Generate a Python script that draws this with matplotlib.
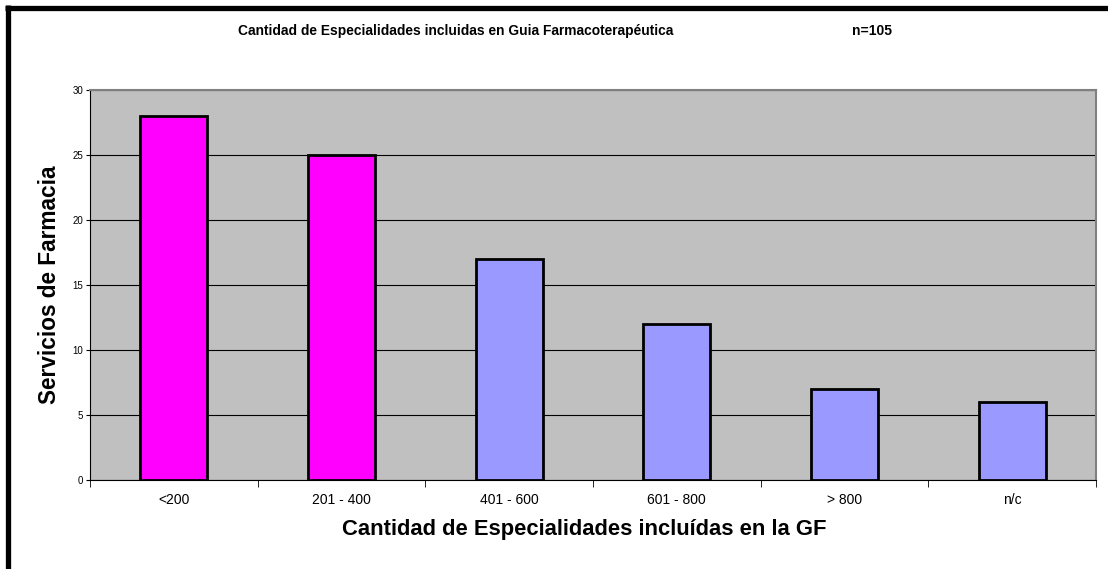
import matplotlib.pyplot as plt
from matplotlib.lines import Line2D
import numpy as np

categories = ['<200', '201 - 400', '401 - 600', '601 - 800', '> 800', 'n/c']
values = [28, 25, 17, 12, 7, 6]
colors = ['#FF00FF', '#FF00FF', '#9999FF', '#9999FF', '#9999FF', '#9999FF']

plt.rcParams['font.family'] = ['Liberation Sans', 'DejaVu Sans']

W, H = 1108, 569
fig = plt.figure(figsize=(W / 100, H / 100), dpi=100)
ax = fig.add_axes([90 / W, 1 - 480 / H, (1096 - 90) / W, (480 - 90) / H])
ax.set_facecolor('#C0C0C0')

x = np.arange(len(categories))
ax.bar(x, values, width=0.4, color=colors, edgecolor='black', linewidth=2, zorder=3)

ax.set_xlim(-0.5, len(categories) - 0.5)
ax.set_ylim(0, 30)
ax.set_yticks(range(0, 31, 5))
ax.tick_params(axis='y', labelsize=7, length=3, direction='out', pad=2)
ax.set_xticks(x)
ax.set_xticklabels(categories)
ax.set_xticks(np.arange(-0.5, len(categories), 1), minor=True)
ax.tick_params(axis='x', which='major', length=0, labelsize=10, pad=9)
ax.tick_params(axis='x', which='minor', length=5, direction='out')
ax.yaxis.grid(True, color='black', linewidth=0.8, zorder=1)
ax.set_axisbelow(True)

for side in ['top', 'right']:
    ax.spines[side].set_color('#808080')
    ax.spines[side].set_linewidth(1.5)
ax.spines['left'].set_color('black')
ax.spines['bottom'].set_color('black')

ax.set_xlabel('Cantidad de Especialidades incluídas en la GF', fontsize=15.8,
              fontweight='bold', va='center')
ax.xaxis.set_label_coords((584 - 90) / 1006, -(530 - 480) / 390)
ax.set_ylabel('Servicios de Farmacia', fontsize=16.3, fontweight='bold', va='center')
ax.yaxis.set_label_coords(-(90 - 50) / 1006, 0.5)

fig.text(456 / W, 1 - 31 / H, 'Cantidad de Especialidades incluidas en Guia Farmacoterapéutica',
         ha='center', va='center', fontsize=9.9, fontweight='bold')
fig.text(872 / W, 1 - 31 / H, 'n=105', ha='center', va='center', fontsize=10, fontweight='bold')

# thick frame (only top and left visible in the crop)
fig.add_artist(Line2D([7.5 / W, 7.5 / W], [0, 1 - 5 / H], color='black', linewidth=3.8,
                      solid_capstyle='butt', transform=fig.transFigure))
fig.add_artist(Line2D([5 / W, 1], [1 - 8 / H, 1 - 8 / H], color='black', linewidth=3.8,
                      solid_capstyle='butt', transform=fig.transFigure))

fig.savefig('out.png', dpi=100)
